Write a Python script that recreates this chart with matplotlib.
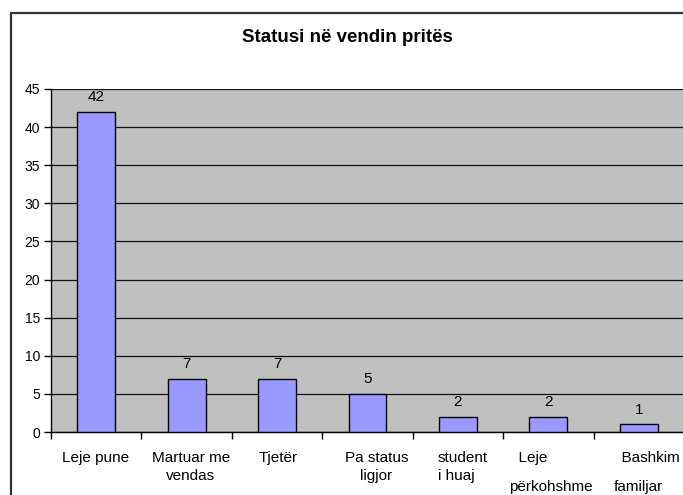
import numpy as np
import matplotlib.pyplot as plt
from matplotlib.patches import Rectangle
from matplotlib.transforms import ScaledTranslation

plt.rcParams['font.family'] = ['Liberation Sans', 'DejaVu Sans']

# te dhenat
kategorite = ["Leje pune", "Martuar me\nvendas", "Tjetër", "Pa status\nligjor",
              "student\ni huaj", "  Leje\npërkohshme", "  Bashkim\nfamiljar"]
vlerat = [42, 7, 7, 5, 2, 2, 1]
yticks = [0, 5, 10, 15, 20, 25, 30, 35, 40, 45]

fig = plt.figure(figsize=(6.83, 4.95), dpi=100)
ax = fig.add_axes([51/683, 1-432/495, 633/683, 343/495])

# korniza e jashtme
fig.patches.append(Rectangle((11/683, -0.1), 1.2, 1-13/495+0.1, transform=fig.transFigure,
                             fill=False, edgecolor='#333333', lw=1.6, zorder=0))

x = np.arange(len(vlerat))
ax.set_facecolor('#C0C0C0')
ax.bar(x, vlerat, width=0.42, color='#9999FF', edgecolor='black', lw=1, zorder=3)
for xi, v in zip(x, vlerat):
    ax.annotate(str(v), (xi, v), xytext=(0, 5.5), textcoords='offset points',
                ha='center', va='bottom', fontsize=11)

ax.set_xlim(-0.5, len(vlerat)-0.5)
ax.set_ylim(0, 45)
ax.set_yticks(yticks)
ax.tick_params(axis='y', labelsize=10, length=5, width=1, direction='out', pad=3)
ax.yaxis.grid(True, color='#111111', lw=0.9, zorder=1)
ax.set_axisbelow(True)

# vizat e boshtit x mes kategorive
ax.set_xticks(np.arange(len(vlerat)+1)-0.5)
ax.set_xticklabels([])
ax.tick_params(axis='x', length=5, width=1, direction='out')

# etiketat e kategorive, me zhvendosje te vogla si ne origjinal
dx = [-1, 4, 1, 9, 5, 3, 8]
ls = [1.35, 1.35, 1.35, 1.35, 1.35, 2.4, 2.4]
ma = ['center', 'center', 'center', 'center', 'left', 'left', 'left']
for xi, lab, d, l, m in zip(x, kategorite, dx, ls, ma):
    tr = ax.get_xaxis_transform() + ScaledTranslation(d/100, -19/100, fig.dpi_scale_trans)
    ax.text(xi, 0, lab, transform=tr, ha='center', va='top', fontsize=11,
            multialignment=m, linespacing=l)

for s in ['top', 'right']:
    ax.spines[s].set_visible(False)
ax.spines['left'].set_linewidth(1)
ax.spines['bottom'].set_linewidth(1)

fig.text(347/683, 1-37/495, "Statusi në vendin pritës", ha='center', va='center',
         fontsize=13.5, fontweight='bold')

fig.savefig('out.png', dpi=100)
